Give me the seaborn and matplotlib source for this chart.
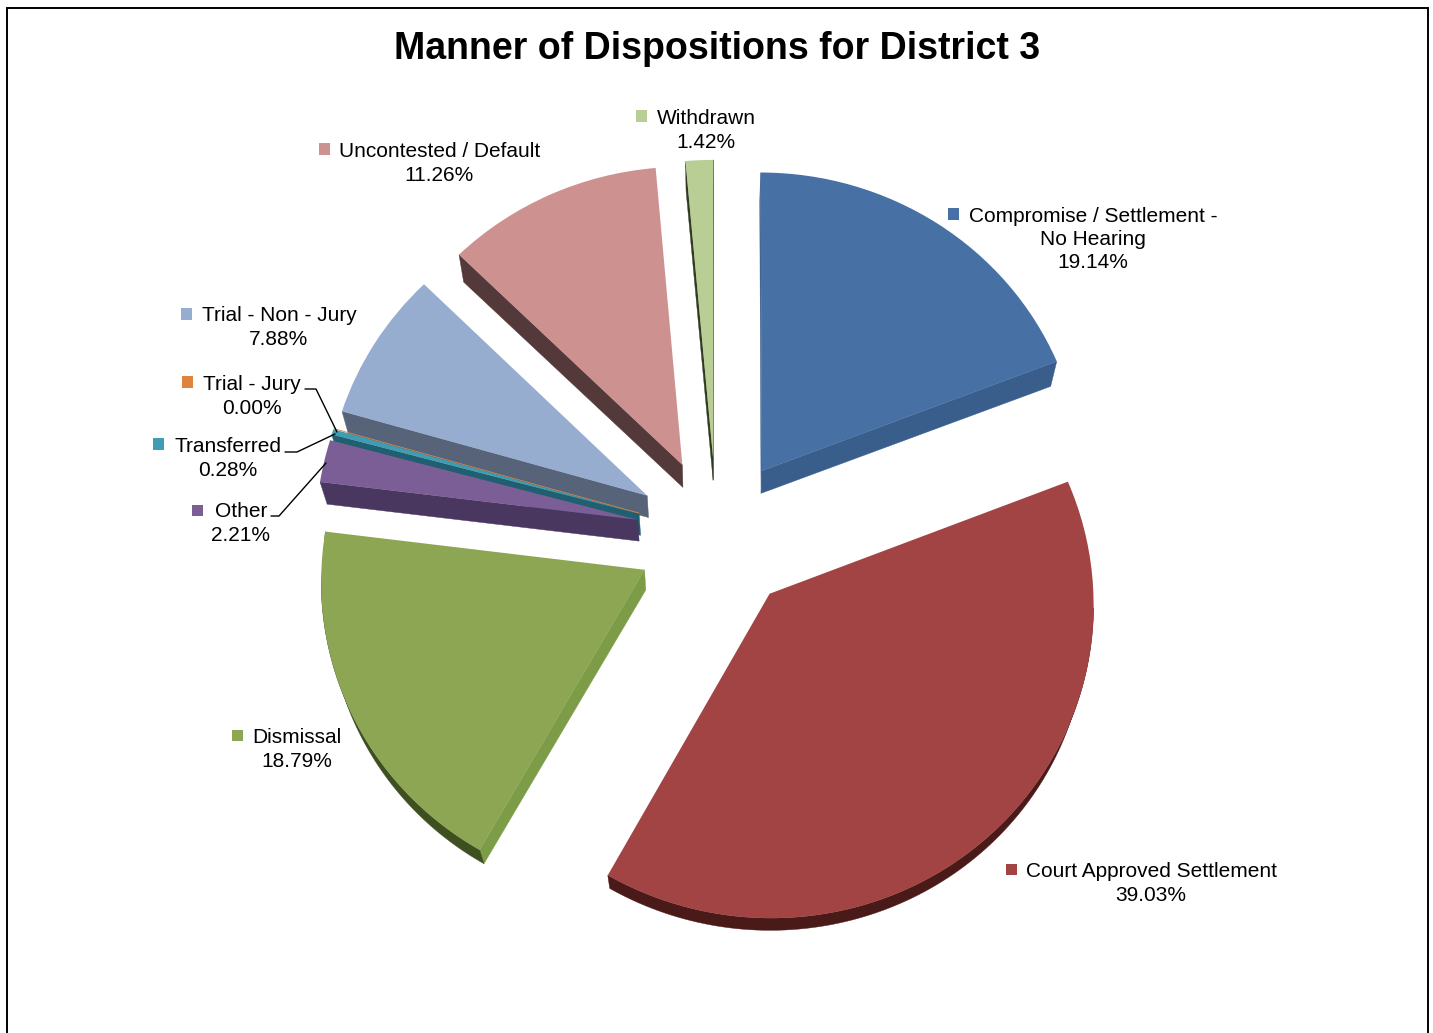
import matplotlib
matplotlib.use('Agg')
import matplotlib.pyplot as plt
from matplotlib.lines import Line2D
from matplotlib.patches import Polygon, Rectangle
from matplotlib.transforms import Transform
import numpy as np
import seaborn as sns

# Data
categories = ['Compromise / Settlement -\nNo Hearing', 'Court Approved Settlement', 'Dismissal', 'Other',
              'Transferred', 'Trial - Jury', 'Trial - Non - Jury', 'Uncontested / Default', 'Withdrawn']
shares = [19.14, 39.03, 18.79, 2.21, 0.28, 0.00, 7.88, 11.26, 1.42]

# Colours: top face, side along the radius, side along the rim
top_colors = ['#4770a4', '#a24443', '#8ca653', '#7b5e95', '#3f9cb2', '#dd853f', '#97add0', '#cd9290', '#b9ce95']
edge_colors = ['#3a5e8c', '#7a3030', '#7d9c48', '#4a3760', '#1f5f70', '#8a5020', '#566379', '#54393a', '#2f3a20']
rim_colors = ['#3a5e8c', '#4a1a18', '#3f5020', '#4a3760', '#1f5f70', '#8a5020', '#566379', '#54393a', '#2f3a20']

# Layout in picture pixels
W, H = 1433, 1033
CX, CY, SCALE = 716.6, 534.6, 322.0
label_xy = [(1093, 239.5), (1151, 883.5), (297, 749.5), (241, 523.5), (228, 458.5), (252, 396.5), (279, 327.5), (439.5, 163.5), (706, 130.5)]
key_xy = [(953, 214), (1011, 869), (237, 735), (197, 510), (158, 444), (187, 382), (186, 314), (324, 149), (641, 116)]
leaders = [[(305, 389), (316, 389), (337, 432)],
           [(285, 452), (297, 452), (335, 434)],
           [(271, 516), (279, 516), (326, 463)]]


def project(xy):
    # slight perspective, far side of the pie is smaller
    xy = np.asarray(xy, dtype=float)
    w = 1 + 0.03 * xy[..., 1]
    return np.stack([xy[..., 0] / w, 0.966 * xy[..., 1] / w], axis=-1)


def drop(xy):
    # where a projected point ends up on the underside of the slab
    depth = (21 + 7.4 * xy[..., 1]) / SCALE
    return np.stack([xy[..., 0] * (1 - 0.018), xy[..., 1] - depth], axis=-1)


class Tilt(Transform):
    input_dims = 2
    output_dims = 2

    def transform_non_affine(self, values):
        return project(values)


def fig_xy(x, y):
    return x / W, 1 - y / H


sns.set_theme(style="white", palette=sns.color_palette(top_colors))
plt.rcParams['font.family'] = ['Liberation Sans', 'DejaVu Sans']

fig = plt.figure(figsize=(W / 100, H / 100), dpi=100, facecolor='white')
ax = fig.add_axes([0, 0, 1, 1])

wedges, _ = ax.pie(shares, colors=top_colors, explode=[0.25] * len(shares), startangle=90,
                   counterclock=False, radius=1, normalize=True)
ax.set_aspect('auto')
ax.set_xlim(-CX / SCALE, (W - CX) / SCALE)
ax.set_ylim(-(H - CY) / SCALE, CY / SCALE)
ax.axis('off')

tilt = Tilt() + ax.transData
for i, w in enumerate(wedges):
    # back slices first so the front ones cover them
    z = 5 - w.center[1]
    w.set_transform(tilt)
    w.set_linewidth(0)
    w.set_zorder(z + 0.5)
    if shares[i] == 0:
        w.set_edgecolor(top_colors[i])
        w.set_linewidth(0.6)
        continue

    t = np.radians(np.linspace(w.theta1, w.theta2, 120))
    arc = project(np.column_stack([w.center[0] + w.r * np.cos(t), w.center[1] + w.r * np.sin(t)]))
    apex = project(np.array(w.center))[None, :]
    # walking the outline counter-clockwise, only edges heading right face the viewer
    front = arc[np.r_[True, np.diff(arc[:, 0]) > 0]]
    for pts, col in [(np.vstack([apex, arc[:1]]), edge_colors[i]),
                     (np.vstack([arc[-1:], apex]), edge_colors[i]),
                     (front, rim_colors[i])]:
        if pts[-1, 0] <= pts[0, 0]:
            continue
        quad = np.vstack([pts, drop(pts)[::-1]])
        ax.add_patch(Polygon(quad, closed=True, facecolor=col, edgecolor=col, linewidth=0.3, zorder=z))

# Labels with their colour keys
for name, val, (lx, ly), (kx, ky), col in zip(categories, shares, label_xy, key_xy, top_colors):
    fx, fy = fig_xy(lx, ly)
    fig.text(fx, fy, f'{name}\n{val:.2f}%', ha='center', va='center', fontsize=15.0,
             linespacing=1.3, color='black', zorder=20)
    bx, by = fig_xy(kx - 5.5, ky + 5.5)
    fig.add_artist(Rectangle((bx, by), 11 / W, 11 / H, transform=fig.transFigure,
                             facecolor=col, edgecolor='none'))

for line in leaders:
    pts = [fig_xy(*p) for p in line]
    fig.add_artist(Line2D([p[0] for p in pts], [p[1] for p in pts], transform=fig.transFigure,
                          color='black', linewidth=1.0))

# Chart border runs off the bottom of the crop
bx, by = fig_xy(7, H + 20)
fig.add_artist(Rectangle((bx, by), 1421 / W, (H + 12) / H, transform=fig.transFigure,
                         facecolor='none', edgecolor='black', linewidth=1.4))

tx, ty = fig_xy(717.5, 49)
fig.text(tx, ty, 'Manner of Dispositions for District 3', ha='center', va='center',
         fontsize=27, fontweight='bold', color='black')

plt.savefig('out.png', dpi=100)
plt.close()
